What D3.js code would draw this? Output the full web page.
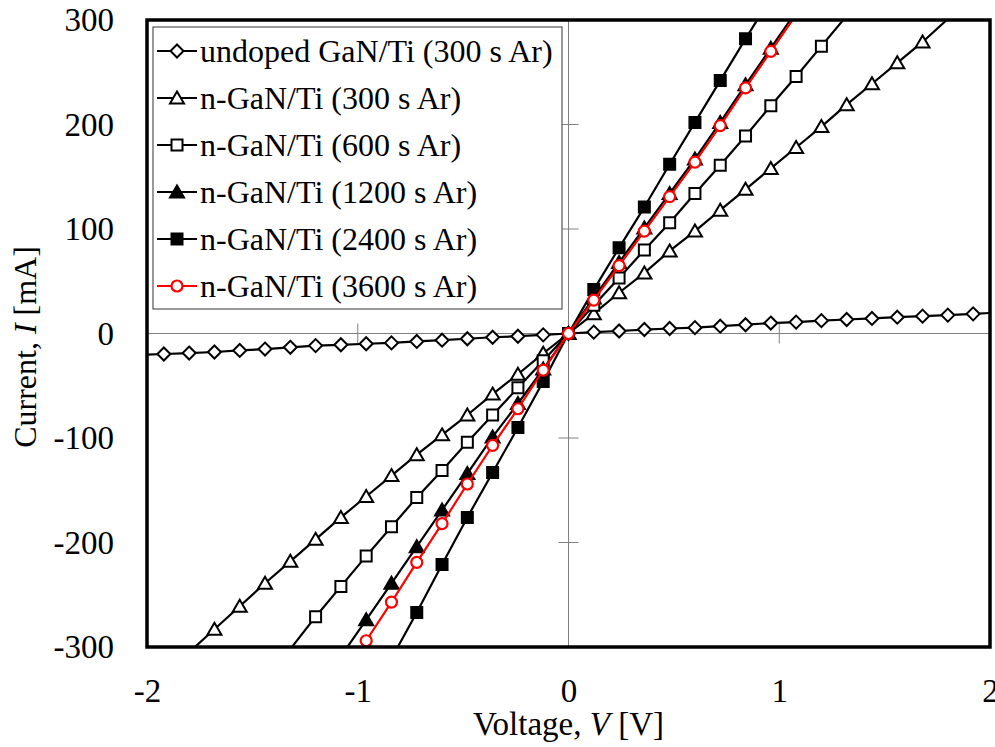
<!DOCTYPE html>
<html>
<head>
<meta charset="utf-8">
<script src="https://cdn.jsdelivr.net/npm/d3@7"></script>
<style>
  html, body { margin: 0; padding: 0; background: #fff; }
  svg { display: block; }
  text { font-family: "Liberation Serif", "Times New Roman", serif; fill: #000; }
</style>
</head>
<body>
<svg id="chart" width="995" height="747"></svg>
<script>
// Applied voltage sweep [V]
const voltage = [-2.04, -1.92, -1.80, -1.68, -1.56, -1.44, -1.32, -1.20, -1.08, -0.96, -0.84, -0.72,
                 -0.60, -0.48, -0.36, -0.24, -0.12, 0.00, 0.12, 0.24, 0.36, 0.48, 0.60, 0.72,
                 0.84, 0.96, 1.08, 1.20, 1.32, 1.44, 1.56, 1.68, 1.80, 1.92, 2.04];

// Measured current [mA] for each contact (null = not measured)
const undoped300 = [-20.5, -19.6, -18.7, -17.7, -16.2, -14.9, -13.2, -11.6, -10.8, -9.8, -9.0, -7.6,
                    -6.4, -5.0, -3.6, -2.6, -1.3, 0, 1.3, 2.4, 3.8, 4.8, 5.6, 7.0,
                    8.4, 10.0, 10.9, 12.3, 13.4, 14.4, 15.6, 16.6, 17.6, 18.8, 20.0];
const nGaN300 = [null, null, -305, -283, -261, -239, -218, -197, -176, -156, -136, -116,
                 -97, -78, -58, -39, -19, 0, 19, 39, 58, 79, 98, 118,
                 138, 158, 178, 198, 219, 239, 259, 279, 301, null, null];
const nGaN600 = [null, null, null, null, null, null, -302, -271, -242, -213, -185, -157,
                 -131, -104, -78, -52, -26, 0, 27, 53, 80, 106, 134, 161,
                 189, 218, 246, 275, 304, null, null, null, null, null, null];
const nGaN1200 = [null, null, null, null, null, null, null, null, -309, -274, -239, -204,
                  -169, -134, -99, -67, -34, 0, 34, 68, 101, 134, 167, 202,
                  238, 273, 308, null, null, null, null, null, null, null, null];
const nGaN2400 = [null, null, null, null, null, null, null, null, null, null, -311, -267,
                  -221, -176, -133, -90, -46, 0, 42, 82, 121, 162, 202, 242,
                  282, 321, null, null, null, null, null, null, null, null, null];
const nGaN3600 = [null, null, null, null, null, null, null, null, null, -294, -257, -219,
                  -182, -144, -107, -72, -35, 0, 32, 65, 98, 131, 164, 199,
                  235, 270, 305, null, null, null, null, null, null, null, null];

const seriesNames = ["undoped GaN/Ti (300 s Ar)", "n-GaN/Ti (300 s Ar)", "n-GaN/Ti (600 s Ar)",
                     "n-GaN/Ti (1200 s Ar)", "n-GaN/Ti (2400 s Ar)", "n-GaN/Ti (3600 s Ar)"];
const seriesValues = [undoped300, nGaN300, nGaN600, nGaN1200, nGaN2400, nGaN3600];
const seriesMarkers = ["diamond", "triangle", "square", "triangle", "square", "circle"];
const seriesFilled = [false, false, false, true, true, false];
const seriesColors = ["#000000", "#000000", "#000000", "#000000", "#000000", "#ff0000"];

const xTicks = [-2, -1, 0, 1, 2];
const yTicks = [-300, -200, -100, 0, 100, 200, 300];

const svg = d3.select("#chart");
const plot = { left: 147, right: 990, top: 20, bottom: 647 };

const x = d3.scaleLinear().domain([-2, 2]).range([plot.left, plot.right]);
const y = d3.scaleLinear().domain([-300, 300]).range([plot.bottom, plot.top]);

svg.append("defs").append("clipPath").attr("id", "plotClip")
  .append("rect")
  .attr("x", plot.left).attr("y", plot.top)
  .attr("width", plot.right - plot.left).attr("height", plot.bottom - plot.top);

// Axes through the origin
const origin = svg.append("g");
origin.append("line")
  .attr("x1", x(0)).attr("x2", x(0)).attr("y1", plot.top).attr("y2", plot.bottom)
  .attr("stroke", "#808080").attr("stroke-width", 1);
origin.append("line")
  .attr("x1", plot.left).attr("x2", plot.right).attr("y1", y(0)).attr("y2", y(0))
  .attr("stroke", "#808080").attr("stroke-width", 1);

// Cross ticks on the origin axes
origin.selectAll("line.yt").data(yTicks.filter(d => d !== 0 && Math.abs(d) < 300)).enter()
  .append("line").attr("class", "yt")
  .attr("x1", x(0) - 10).attr("x2", x(0) + 10)
  .attr("y1", d => y(d)).attr("y2", d => y(d))
  .attr("stroke", "#808080").attr("stroke-width", 1);
origin.selectAll("line.xt").data(xTicks.filter(d => d !== 0 && Math.abs(d) < 2)).enter()
  .append("line").attr("class", "xt")
  .attr("x1", d => x(d)).attr("x2", d => x(d))
  .attr("y1", y(0) - 10).attr("y2", y(0) + 10)
  .attr("stroke", "#808080").attr("stroke-width", 1);

// Tick labels (plain hyphen for negatives)
const plain = d => String(d);
const yAxis = svg.append("g")
  .attr("transform", `translate(${plot.left},0)`)
  .call(d3.axisLeft(y).tickValues(yTicks).tickSize(0).tickPadding(33).tickFormat(plain));
yAxis.select(".domain").remove();
yAxis.selectAll("text").style("font-size", "33px").style("font-family", "'Liberation Serif', serif");

const xAxis = svg.append("g")
  .attr("transform", `translate(0,${plot.bottom})`)
  .call(d3.axisBottom(x).tickValues(xTicks).tickSize(0).tickPadding(32).tickFormat(plain));
xAxis.select(".domain").remove();
xAxis.selectAll("text").style("font-size", "33px").style("font-family", "'Liberation Serif', serif");

// Axis titles
const xTitle = svg.append("text")
  .attr("x", (plot.left + plot.right) / 2).attr("y", 735)
  .attr("text-anchor", "middle").style("font-size", "33px");
xTitle.append("tspan").text("Voltage, ");
xTitle.append("tspan").style("font-style", "italic").text("V");
xTitle.append("tspan").text(" [V]");

const yTitle = svg.append("text")
  .attr("transform", "translate(36,347) rotate(-90)")
  .attr("text-anchor", "middle").style("font-size", "32px");
yTitle.append("tspan").text("Current, ");
yTitle.append("tspan").style("font-style", "italic").text("I");
yTitle.append("tspan").text(" [mA]");

// Marker shapes
function markerPath(kind) {
  if (kind === "diamond") return "M0,-6.5L6.5,0L0,6.5L-6.5,0Z";
  if (kind === "triangle") return "M0,-6.5L7,5.5L-7,5.5Z";
  if (kind === "square") return "M-5.5,-5.5H5.5V5.5H-5.5Z";
  return null;
}
function drawMarker(g, kind, filled, color) {
  if (kind === "circle") {
    g.append("circle").attr("r", 5.5)
      .attr("fill", "#fff").attr("stroke", color).attr("stroke-width", 2.2);
  } else {
    g.append("path").attr("d", markerPath(kind))
      .attr("fill", filled ? color : "#fff")
      .attr("stroke", color).attr("stroke-width", 2).attr("stroke-linejoin", "miter");
  }
}

const line = d3.line()
  .defined(d => d.i !== null)
  .x(d => x(d.v)).y(d => y(d.i));

const seriesLayer = svg.append("g");
seriesValues.forEach((vals, k) => {
  const pts = voltage.map((v, j) => ({ v: v, i: vals[j] }));
  const g = seriesLayer.append("g");
  g.append("path")
    .datum(pts)
    .attr("clip-path", "url(#plotClip)")
    .attr("fill", "none")
    .attr("stroke", seriesColors[k])
    .attr("stroke-width", 2.2)
    .attr("stroke-linejoin", "round")
    .attr("d", line);
  const inside = pts.filter(d => d.i !== null && d.v >= -2 && d.v <= 2 && d.i >= -300 && d.i <= 300);
  g.selectAll("g.mk").data(inside).enter()
    .append("g").attr("class", "mk")
    .attr("transform", d => `translate(${x(d.v)},${y(d.i)})`)
    .each(function () { drawMarker(d3.select(this), seriesMarkers[k], seriesFilled[k], seriesColors[k]); });
});

// Plot frame
svg.append("rect")
  .attr("x", plot.left).attr("y", plot.top)
  .attr("width", plot.right - plot.left).attr("height", plot.bottom - plot.top)
  .attr("fill", "none").attr("stroke", "#000").attr("stroke-width", 3.5);

// Legend
const legend = svg.append("g");
legend.append("rect")
  .attr("x", 153).attr("y", 27).attr("width", 409).attr("height", 282)
  .attr("fill", "#fff").attr("stroke", "#555").attr("stroke-width", 1.2);
seriesNames.forEach((name, k) => {
  const cy = 51 + k * 47;
  const row = legend.append("g");
  row.append("line")
    .attr("x1", 157).attr("x2", 197).attr("y1", cy).attr("y2", cy)
    .attr("stroke", seriesColors[k]).attr("stroke-width", 2.2);
  const m = row.append("g").attr("transform", `translate(177,${cy})`);
  drawMarker(m, seriesMarkers[k], seriesFilled[k], seriesColors[k]);
  row.append("text")
    .attr("x", 200).attr("y", cy).attr("dy", "0.35em")
    .style("font-size", "32px").text(name);
});
</script>
</body>
</html>
